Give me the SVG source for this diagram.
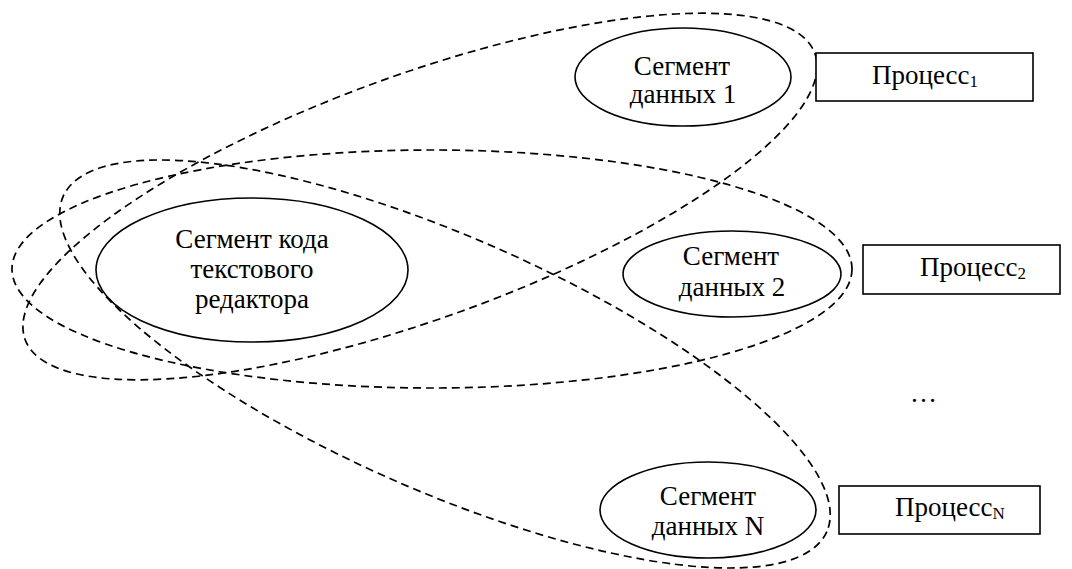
<svg xmlns="http://www.w3.org/2000/svg" width="1072" height="569" viewBox="0 0 1072 569">
<style>
.bg{fill:#fff}
.seg{fill:#fff;stroke:#000;stroke-width:1.6}
.grp{fill:none;stroke:#000;stroke-width:1.7;stroke-dasharray:8 5}
.box{fill:#fff;stroke:#000;stroke-width:1.6}
text{font-family:'Liberation Serif','DejaVu Serif',serif;font-size:27px;fill:#000}
.t{text-anchor:middle}
.sub{font-size:17px}
</style>
<rect class="bg" x="0" y="0" width="1072" height="569"/>
<g id="code">
  <ellipse class="seg" cx="252" cy="270" rx="156" ry="72"/>
  <text class="t" x="252" y="248">Сегмент кода</text>
  <text class="t" x="252" y="278">текстового</text>
  <text class="t" x="252" y="308">редактора</text>
</g>
<g id="data1">
  <ellipse class="seg" cx="683" cy="77" rx="108" ry="49"/>
  <text class="t" x="682" y="75">Сегмент</text>
  <text class="t" x="683" y="103">данных 1</text>
</g>
<g id="data2">
  <ellipse class="seg" cx="732" cy="274" rx="109" ry="43"/>
  <text class="t" x="731" y="265">Сегмент</text>
  <text class="t" x="732" y="296">данных 2</text>
</g>
<g id="dataN">
  <ellipse class="seg" cx="708" cy="510" rx="108" ry="48"/>
  <text class="t" x="708" y="505">Сегмент</text>
  <text class="t" x="708" y="535">данных N</text>
</g>
<g id="groups">
  <ellipse class="grp" cx="420" cy="196.5" rx="420" ry="122" transform="rotate(-19.9 420 196.5)"/>
  <ellipse class="grp" cx="432" cy="269" rx="420" ry="119"/>
  <ellipse class="grp" cx="445" cy="364" rx="417" ry="127" transform="rotate(23.7 445 364)"/>
</g>
<g id="process1">
  <rect class="box" x="816" y="53" width="217" height="48"/>
  <text x="872" y="84">Процесс<tspan class="sub" dy="3">1</tspan></text>
</g>
<g id="process2">
  <rect class="box" x="863" y="245" width="197" height="49"/>
  <text x="920" y="276">Процесс<tspan class="sub" dy="3">2</tspan></text>
</g>
<g id="processN">
  <rect class="box" x="839" y="486" width="201" height="48"/>
  <text x="895" y="516">Процесс<tspan class="sub" dy="3">N</tspan></text>
</g>
<g id="ellipsis">
  <text class="t" x="925" y="402" letter-spacing="3">…</text>
</g>
</svg>
